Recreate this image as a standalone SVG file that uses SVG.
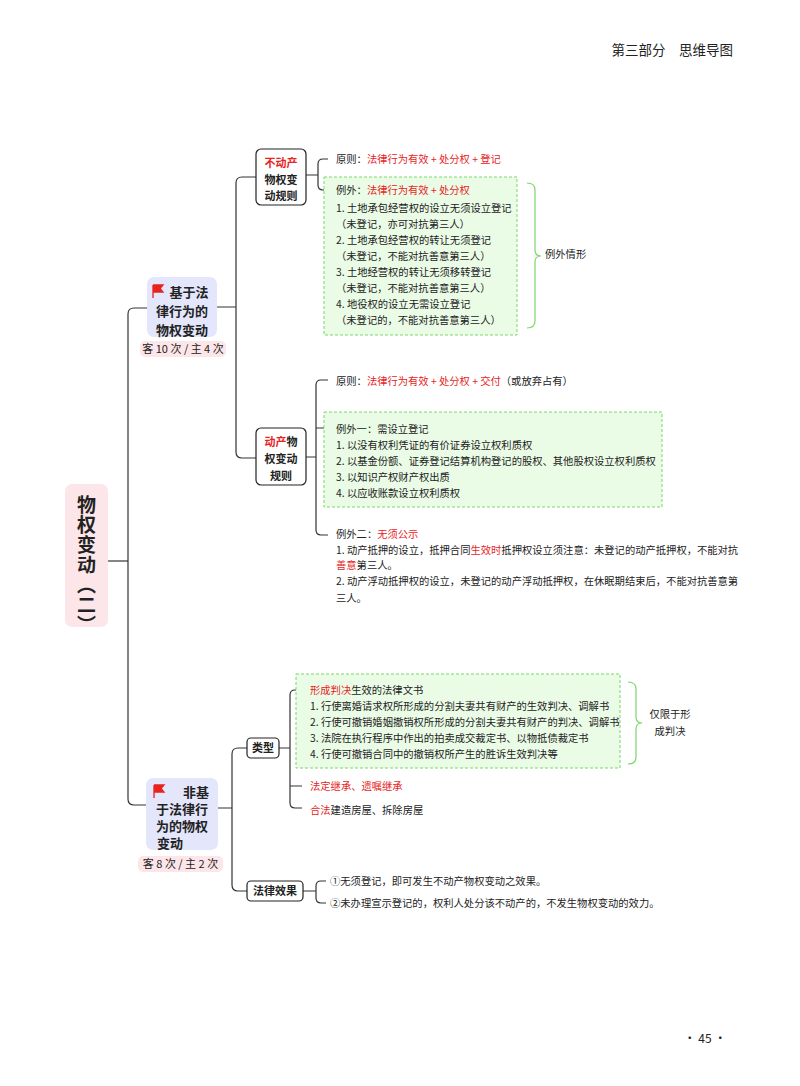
<svg xmlns="http://www.w3.org/2000/svg" width="800" height="1086" viewBox="0 0 800 1086">
<style>
text{font-family:"Noto Sans CJK SC","Liberation Sans",sans-serif;fill:#222}
.t{font-size:10.3px}
.r{fill:#e8231e}
.b{font-weight:bold}
.n{font-size:13px;font-weight:bold;text-anchor:middle}
.s{font-size:11px;font-weight:bold;text-anchor:middle}
.box{fill:#fff;stroke:#222;stroke-width:1.2}
.g{fill:#eafbe6;stroke:#7cd86a;stroke-width:1;stroke-dasharray:3 2}
.c{fill:none;stroke:#333;stroke-width:1.2}
.br{fill:none;stroke:#7cd86a;stroke-width:1.2}
</style>
<rect width="800" height="1086" fill="#fff"/>
<text x="733" y="55" font-size="13.5" text-anchor="end">第三部分　思维导图</text>
<text x="705" y="1043" font-size="12" text-anchor="middle">· 45 ·</text>

<g id="connectors">
<path class="c" d="M108 561H128"/>
<path class="c" d="M147 308H134Q128 308 128 314V799Q128 805 134 805H146"/>
<path class="c" d="M217 307H236M256 177H242Q236 177 236 183V452Q236 458 242 458H256"/>
<path class="c" d="M306 175H318M328 159H323Q318 159 318 164V185Q318 190 323 190H328"/>
<path class="c" d="M306 457H316M328 380H321Q316 380 316 385V530Q316 535 321 535H328M316 428H328"/>
<path class="c" d="M218 808H232M247 748H238Q232 748 232 754V885Q232 891 238 891H247"/>
<path class="c" d="M279 748H290M302 690H295Q290 690 290 695V803Q290 808 295 808H302M290 786H302"/>
<path class="c" d="M303 891H316M326 881H321Q316 881 316 886V898Q316 903 321 903H326"/>
<path class="br" d="M527 183Q535 183 535 190V250Q535 256 541 256Q535 256 535 262V321Q535 328 527 328"/>
<path class="br" d="M628 682Q636 682 636 689V717Q636 723 642 723Q636 723 636 729V757Q636 764 628 764"/>
</g>

<g id="root">
<rect x="65" y="484" width="43" height="143" rx="7" fill="#fde6e9"/>
<text x="86.5" y="495" font-size="19" font-weight="bold" style="writing-mode:vertical-rl" letter-spacing="1">物权变动（二）</text>
</g>

<g id="node1">
<rect x="147" y="277" width="70" height="60" rx="7" fill="#e4e6fb"/>
<path d="M153 285V298M153 285H163L160 288.5L163 292H153" fill="#e8231e" stroke="#e8231e" stroke-width="1.3"/>
<text class="n" x="182" y="297"><tspan dx="7">基于法</tspan></text>
<text class="n" x="182" y="316">律行为的</text>
<text class="n" x="182" y="335">物权变动</text>
<rect x="140" y="341" width="86" height="16" rx="5" fill="#fde6e9"/>
<text x="183" y="353" font-size="11" text-anchor="middle">客 10 次 / 主 4 次</text>
</g>

<g id="node-budongchan">
<rect class="box" x="256" y="149" width="50" height="56" rx="5"/>
<text class="s r" x="281" y="167">不动产</text>
<text class="s" x="281" y="184">物权变</text>
<text class="s" x="281" y="200">动规则</text>
</g>
<g id="bdc-items">
<text class="t" x="336" y="163">原则：<tspan class="r">法律行为有效 + 处分权 + 登记</tspan></text>
<rect class="g" x="324" y="177" width="193" height="158"/>
<text class="t" x="336" y="194">例外：<tspan class="r">法律行为有效 + 处分权</tspan></text>
<text class="t" x="336" y="212">1. 土地承包经营权的设立无须设立登记</text>
<text class="t" x="336" y="228">（未登记，亦可对抗第三人）</text>
<text class="t" x="336" y="244">2. 土地承包经营权的转让无须登记</text>
<text class="t" x="336" y="260">（未登记，不能对抗善意第三人）</text>
<text class="t" x="336" y="276">3. 土地经营权的转让无须移转登记</text>
<text class="t" x="336" y="292">（未登记，不能对抗善意第三人）</text>
<text class="t" x="336" y="308">4. 地役权的设立无需设立登记</text>
<text class="t" x="336" y="324">（未登记的，不能对抗善意第三人）</text>
<text class="t" x="545" y="258">例外情形</text>
</g>

<g id="node-dongchan">
<rect class="box" x="256" y="428" width="50" height="57" rx="5"/>
<text class="s" x="281" y="446"><tspan class="r">动产</tspan>物</text>
<text class="s" x="281" y="463">权变动</text>
<text class="s" x="281" y="480">规则</text>
</g>
<g id="dc-items">
<text class="t" x="336" y="385">原则：<tspan class="r">法律行为有效 + 处分权 + 交付</tspan>（或放弃占有）</text>
<rect class="g" x="324" y="412" width="338" height="95"/>
<text class="t" x="336" y="433">例外一：需设立登记</text>
<text class="t" x="336" y="449">1. 以没有权利凭证的有价证券设立权利质权</text>
<text class="t" x="336" y="465">2. 以基金份额、证券登记结算机构登记的股权、其他股权设立权利质权</text>
<text class="t" x="336" y="481">3. 以知识产权财产权出质</text>
<text class="t" x="336" y="497">4. 以应收账款设立权利质权</text>
<text class="t" x="336" y="538">例外二：<tspan class="r">无须公示</tspan></text>
<text class="t" x="336" y="554">1. 动产抵押的设立，抵押合同<tspan class="r">生效时</tspan>抵押权设立须注意：未登记的动产抵押权，不能对抗</text>
<text class="t" x="336" y="569"><tspan class="r">善意</tspan>第三人。</text>
<text class="t" x="336" y="585">2. 动产浮动抵押权的设立，未登记的动产浮动抵押权，在休眠期结束后，不能对抗善意第</text>
<text class="t" x="336" y="602">三人。</text>
</g>

<g id="node2">
<rect x="146" y="778" width="72" height="72" rx="7" fill="#e4e6fb"/>
<path d="M154 785V798M154 785H164L161 788.5L164 792H154" fill="#e8231e" stroke="#e8231e" stroke-width="1.3"/>
<text class="n" x="182" y="797"><tspan dx="14">非基</tspan></text>
<text class="n" x="182" y="814">于法律行</text>
<text class="n" x="182" y="831">为的物权</text>
<text class="n" x="182" y="848"><tspan dx="-12">变动</tspan></text>
<rect x="138" y="856" width="85" height="16" rx="5" fill="#fde6e9"/>
<text x="180.5" y="868" font-size="11" text-anchor="middle">客 8 次 / 主 2 次</text>
</g>

<g id="node-leixing">
<rect class="box" x="247" y="738" width="32" height="20" rx="4"/>
<text class="s" x="263" y="752">类型</text>
</g>
<g id="lx-items">
<rect class="g" x="296" y="674" width="324" height="94"/>
<text class="t" x="310" y="694"><tspan class="r">形成判决</tspan>生效的法律文书</text>
<text class="t" x="310" y="710">1. 行使离婚请求权所形成的分割夫妻共有财产的生效判决、调解书</text>
<text class="t" x="310" y="726">2. 行使可撤销婚姻撤销权所形成的分割夫妻共有财产的判决、调解书</text>
<text class="t" x="310" y="742">3. 法院在执行程序中作出的拍卖成交裁定书、以物抵债裁定书</text>
<text class="t" x="310" y="758">4. 行使可撤销合同中的撤销权所产生的胜诉生效判决等</text>
<text class="t r" x="310" y="790">法定继承、遗嘱继承</text>
<text class="t" x="310" y="814"><tspan class="r">合法</tspan>建造房屋、拆除房屋</text>
<text class="t" x="670" y="718" text-anchor="middle">仅限于形</text>
<text class="t" x="670" y="735" text-anchor="middle">成判决</text>
</g>

<g id="node-xiaoguo">
<rect class="box" x="247" y="881" width="56" height="20" rx="4"/>
<text class="s" x="275" y="895">法律效果</text>
</g>
<g id="xg-items">
<text class="t" x="330" y="885">①无须登记，即可发生不动产物权变动之效果。</text>
<text class="t" x="330" y="907">②未办理宣示登记的，权利人处分该不动产的，不发生物权变动的效力。</text>
</g>
</svg>
